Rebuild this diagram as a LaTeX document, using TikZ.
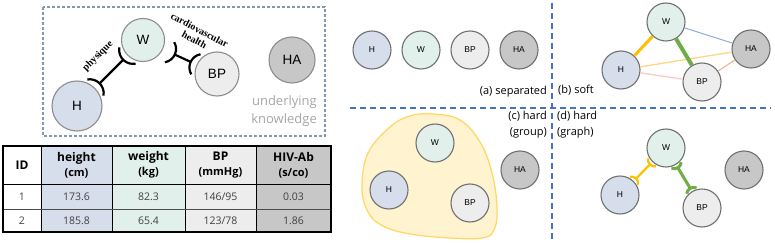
\documentclass[tikz,border=0pt]{standalone}
\usepackage{fontspec}
\setmainfont{Open Sans}
\newfontfamily\nodefont{Liberation Sans}
\newfontfamily\serifb{Liberation Serif}
\usetikzlibrary{calc}

\definecolor{cH}{RGB}{214,221,235}
\definecolor{cW}{RGB}{226,240,236}
\definecolor{cBP}{RGB}{237,237,237}
\definecolor{cHA}{RGB}{199,199,199}
\definecolor{nborder}{RGB}{112,112,112}
\definecolor{divblue}{RGB}{68,114,196}
\definecolor{boxdash}{RGB}{132,151,176}
\definecolor{kgray}{RGB}{166,166,166}
\definecolor{corange}{RGB}{255,192,0}
\definecolor{cgreen}{RGB}{112,173,71}
\definecolor{cblueline}{RGB}{143,170,220}
\definecolor{clightorange}{RGB}{255,214,130}
\definecolor{cpink}{RGB}{248,203,203}
\definecolor{csalmon}{RGB}{244,177,131}
\definecolor{blobfill}{RGB}{255,243,208}
\definecolor{blobline}{RGB}{255,217,102}
\definecolor{datagray}{RGB}{64,64,64}

% #1 node A, #2 node B, #3 offset from A centre, #4 offset from B centre,
% #5 arc radius, #6 arc half angle, #7 style
\newcommand\bracketlink[7]{%
  \draw[#7] let \p1=(#1.center), \p2=(#2.center), \n1={atan2(\y2-\y1,\x2-\x1)} in
    ($(\p1)+(\n1:#3pt)$) -- ($(\p2)+(\n1+180:#4pt)$);
  \draw[#7] let \p1=(#1.center), \p2=(#2.center), \n1={atan2(\y2-\y1,\x2-\x1)} in
    ($(\p1)+(\n1:#3pt-#5pt)$) ++(\n1-#6:#5pt)
    arc[start angle=\n1-#6, end angle=\n1+#6, radius=#5pt];
  \draw[#7] let \p1=(#1.center), \p2=(#2.center), \n1={atan2(\y2-\y1,\x2-\x1)} in
    ($(\p2)+(\n1+180:#4pt-#5pt)$) ++(\n1+180-#6:#5pt)
    arc[start angle=\n1+180-#6, end angle=\n1+180+#6, radius=#5pt];
}

\tikzset{
  vnode/.style={circle, draw=nborder, line width=1.1pt, inner sep=0pt,
    minimum size=38pt, font=\nodefont\fontsize{8.5}{9}\selectfont},
  bignode/.style={circle, draw=nborder!80, line width=1.1pt, inner sep=0pt,
    font=\nodefont\fontsize{13.5}{14}\selectfont},
  divider/.style={divblue, line width=1.1pt, dash pattern=on 6pt off 4pt},
  panellabel/.style={font=\fontsize{11}{16}\selectfont, inner sep=0pt},
  tabhead/.style={align=center, font=\fontsize{12}{15}\selectfont\bfseries, inner sep=0pt},
  tabdata/.style={font=\fontsize{10.5}{12}\selectfont, text=datagray, inner sep=0pt},
  linklabel/.style={font=\serifb\bfseries\fontsize{10}{11}\selectfont, inner sep=0pt, align=center},
}

\begin{document}
\begin{tikzpicture}[x=1pt, y=-1pt]
\useasboundingbox (0,0) rectangle (775,243);

% ---------- top-left: underlying knowledge ----------
\draw[boxdash, line width=1.1pt, dash pattern=on 3pt off 2pt] (43,7) rectangle (325,136);
\node[bignode, fill=cH, minimum size=50pt] (kH) at (77,106) {H};
\node[bignode, fill=cW, minimum size=43pt] (kW) at (143,40) {W};
\node[bignode, fill=cBP, minimum size=44pt] (kBP) at (217,74) {BP};
\node[bignode, fill=cHA, minimum size=46pt] (kHA) at (292,60) {HA};
\bracketlink{kH}{kW}{32}{28}{14}{55}{black, line width=2.2pt}
\bracketlink{kW}{kBP}{35}{29}{13.5}{55}{black, line width=2.2pt}
\node[linklabel, rotate=45] (lphys) at (98,56) {physique};
\node[linklabel, rotate=-28] (lcard) at (197,35) {cardiovascular\\health};
\node[anchor=north east, align=right, inner sep=0pt, text=kgray,
  font=\fontsize{13}{18}\selectfont] (lknow) at (317,95) {underlying\\knowledge};

% ---------- table ----------
\fill[cH] (41,146) rectangle (112,232);
\fill[cW] (112,146) rectangle (185,232);
\fill[cBP] (185,146) rectangle (256,232);
\fill[cHA] (256,146) rectangle (331,232);
\foreach \xx in {41,112,185,256} \draw[black, line width=0.8pt] (\xx,146) -- (\xx,232);
\draw[black, line width=1pt] (3,184) -- (331,184);
\draw[black!70, line width=0.8pt] (3,209) -- (331,209);
\draw[black, line width=1.2pt] (3,146) rectangle (331,232);

\node[tabhead] (tID) at (22,165) {ID};
\node[tabhead] (th) at (76.5,165) {height\\{\fontsize{11}{14}\selectfont (cm)}};
\node[tabhead] (tw) at (148.5,165) {weight\\{\fontsize{11}{14}\selectfont (kg)}};
\node[tabhead] (tb) at (220.5,165) {BP\\{\fontsize{11}{14}\selectfont (mmHg)}};
\node[tabhead] (ta) at (293.5,165) {HIV-Ab\\{\fontsize{11}{14}\selectfont (s/co)}};

\node[tabdata] (r1a) at (22,196.5) {1};
\node[tabdata] (r1b) at (76.5,196.5) {173.6};
\node[tabdata] (r1c) at (148.5,196.5) {82.3};
\node[tabdata] (r1d) at (220.5,196.5) {146/95};
\node[tabdata] (r1e) at (293.5,196.5) {0.03};
\node[tabdata] (r2a) at (22,220.5) {2};
\node[tabdata] (r2b) at (76.5,220.5) {185.8};
\node[tabdata] (r2c) at (148.5,220.5) {65.4};
\node[tabdata] (r2d) at (220.5,220.5) {123/78};
\node[tabdata] (r2e) at (293.5,220.5) {1.86};

% ---------- dividers ----------
\draw[divider] (552,3) -- (552,243);
\draw[divider] (350,108) -- (771,108);

% ---------- (a) separated ----------
\node[vnode, fill=cH] (aH) at (372,50) {H};
\node[vnode, fill=cW] (aW) at (421,50) {W};
\node[vnode, fill=cBP] (aBP) at (470,50) {BP};
\node[vnode, fill=cHA] (aHA) at (519,50) {HA};
\node[panellabel, anchor=east] (la) at (547,92) {(a) separated};

% ---------- (b) soft ----------
\node[vnode, fill=cW] (bW) at (666,22) {W};
\node[vnode, fill=cH] (bH) at (621,70) {H};
\node[vnode, fill=cBP] (bBP) at (702,82) {BP};
\node[vnode, fill=cHA] (bHA) at (751,49) {HA};
\draw[cblueline, line width=1pt] (bW) -- (bHA);
\draw[clightorange, line width=1.3pt] (bH) -- (bHA);
\draw[cpink, line width=1.3pt] (bH) -- (bBP);
\draw[csalmon, line width=1.1pt] (bBP) -- (bHA);
\draw[corange, line width=3pt] (bH) -- (bW);
\draw[cgreen, line width=4pt] (bW) -- (bBP);
\node[panellabel, anchor=west] (lb) at (558,90) {(b) soft};

% ---------- (c) hard (group) ----------
\draw[blobline, fill=blobfill, line width=1.3pt] plot[smooth cycle, tension=0.65] coordinates {
  (433,114) (460,120) (480,142) (492,173) (497,207) (494,230) (482,238)
  (450,238) (410,234) (383,226) (368,212) (362,187) (368,153) (390,127) (410,116)};
\node[vnode, fill=cW] (cW) at (435,143) {W};
\node[vnode, fill=cH] (cH) at (389,190) {H};
\node[vnode, fill=cBP] (cBP) at (470,203) {BP};
\node[vnode, fill=cHA] (cHA) at (520,170) {HA};
\node[panellabel, anchor=north east, align=right] (lc) at (547,111) {(c) hard\\(group)};

% ---------- (d) hard (graph) ----------
\node[vnode, fill=cW] (dW) at (666,148) {W};
\node[vnode, fill=cH] (dH) at (620,195) {H};
\node[vnode, fill=cBP] (dBP) at (702,208) {BP};
\node[vnode, fill=cHA] (dHA) at (744,170) {HA};
\bracketlink{dH}{dW}{23}{23}{7}{55}{corange, line width=2.2pt}
\bracketlink{dW}{dBP}{23}{23}{7}{55}{cgreen, line width=3pt}
\node[panellabel, anchor=north west, align=left] (ld) at (557,111) {(d) hard\\(graph)};
\end{tikzpicture}
\end{document}
